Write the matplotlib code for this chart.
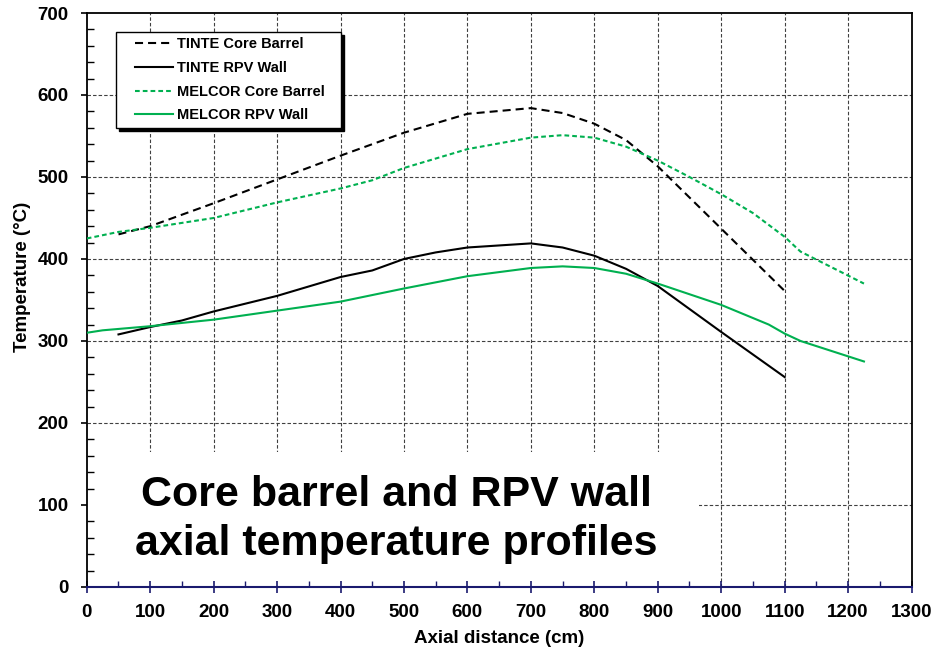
import matplotlib
matplotlib.use("Agg")
import matplotlib.pyplot as plt
from matplotlib.patches import Rectangle
from matplotlib.legend_handler import HandlerLine2D
from matplotlib.ticker import MultipleLocator

plt.rcParams["font.family"] = ["Liberation Sans", "DejaVu Sans"]
plt.rcParams["font.weight"] = "bold"
plt.rcParams["lines.scale_dashes"] = False

# axial profiles (cm, degC)
tinte_cb_x = [50, 100, 200, 300, 400, 500, 600, 700, 750, 800, 850, 900, 1000, 1100]
tinte_cb_y = [430, 440, 468, 497, 526, 554, 577, 584, 578, 565, 545, 513, 437, 361]

tinte_rpv_x = [50, 100, 150, 200, 300, 400, 450, 500, 550, 600, 700, 750, 800, 850, 900, 1000, 1100]
tinte_rpv_y = [308, 317, 325, 336, 355, 378, 386, 400, 408, 414, 419, 414, 404, 388, 367, 311, 256]

melcor_cb_x = [0, 50, 100, 200, 300, 400, 450, 500, 600, 700, 750, 800, 850, 900, 950, 1000, 1050, 1100, 1125, 1225]
melcor_cb_y = [425, 433, 438, 450, 469, 486, 496, 511, 534, 548, 551, 548, 537, 520, 500, 479, 456, 427, 409, 370]

melcor_rpv_x = [0, 25, 100, 200, 300, 400, 450, 500, 600, 700, 750, 800, 850, 900, 1000, 1075, 1100, 1125, 1225]
melcor_rpv_y = [310, 313, 318, 326, 337, 348, 356, 364, 379, 389, 391, 389, 382, 370, 344, 320, 309, 300, 275]

GREEN = "#00b050"
NAVY = "#1a1a6e"

fig = plt.figure(figsize=(9.33, 6.5), dpi=100)
ax = fig.add_axes([0.093, 0.097, 0.884, 0.883])

ax.plot(tinte_cb_x, tinte_cb_y, color="black", lw=1.5, dashes=(5.8, 3.6),
        label="TINTE Core Barrel", zorder=3)
ax.plot(tinte_rpv_x, tinte_rpv_y, color="black", lw=1.5,
        label="TINTE RPV Wall", zorder=3)
ax.plot(melcor_cb_x, melcor_cb_y, color=GREEN, lw=1.5, dashes=(3.4, 2.2),
        label="MELCOR Core Barrel", zorder=3)
ax.plot(melcor_rpv_x, melcor_rpv_y, color=GREEN, lw=1.5,
        label="MELCOR RPV Wall", zorder=3)

ax.set_xlim(0, 1300)
ax.set_ylim(0, 700)
ax.xaxis.set_major_locator(MultipleLocator(100))
ax.xaxis.set_minor_locator(MultipleLocator(50))
ax.yaxis.set_major_locator(MultipleLocator(100))
ax.yaxis.set_minor_locator(MultipleLocator(20))

# grid drawn by hand so the white box can hide it without hiding the ticks
grid_kw = dict(color="0.25", lw=0.8, linestyle=(0, (2.5, 1.5)), zorder=0.5)
for xv in ax.get_xticks():
    if 0 < xv < 1300:
        ax.axvline(xv, **grid_kw)
for yv in ax.get_yticks():
    if 0 < yv < 700:
        ax.axhline(yv, **grid_kw)
ax.add_patch(Rectangle((0, 0), 965, 165, facecolor="white", edgecolor="none", zorder=1))

for s in ["left", "right", "top"]:
    ax.spines[s].set_color("black")
    ax.spines[s].set_linewidth(1.3)
ax.spines["bottom"].set_color(NAVY)
ax.spines["bottom"].set_linewidth(1.5)

ax.tick_params(axis="x", which="major", direction="inout", length=8, width=1.2,
               color=NAVY, labelsize=13.5, pad=8.5)
ax.tick_params(axis="x", which="minor", direction="in", length=4, width=1, color=NAVY)
ax.tick_params(axis="y", which="major", direction="out", length=4, width=1.2,
               labelsize=13.5, pad=9)
ax.tick_params(axis="y", which="minor", direction="in", length=5, width=1)

ax.set_xlabel("Axial distance (cm)", fontsize=13.5, fontweight="bold", va="center")
ax.set_ylabel("Temperature (\u00b0C)", fontsize=13.5, fontweight="bold", va="center")
ax.xaxis.set_label_coords(0.5, -0.089)
ax.yaxis.set_label_coords(-0.078, 0.54)

ax.text(488, 99, "Core barrel and RPV wall", ha="center", va="baseline",
        fontsize=31, fontweight="bold", zorder=4)
ax.text(488, 39, "axial temperature profiles", ha="center", va="baseline",
        fontsize=31, fontweight="bold", zorder=4)

leg = ax.legend(loc="upper left", bbox_to_anchor=(0.0485, 0.967), borderaxespad=0,
                frameon=True, fancybox=False, framealpha=1, edgecolor="black",
                shadow={"ox": 2.2, "oy": -2.2, "facecolor": "black", "edgecolor": "black", "alpha": 1},
                handlelength=2.8, handletextpad=0.27, labelspacing=0.66, borderpad=0.38,
                handler_map={matplotlib.lines.Line2D: HandlerLine2D(xpad=0.2)},
                prop={"weight": "bold", "size": 10.5})
frame = leg.get_frame()
frame.set_linewidth(1.0)
# extra horizontal padding only
frame.set_boxstyle("square", pad=0.75)
frame.set_mutation_aspect(0.001)

fig.savefig("out.png", dpi=100)
